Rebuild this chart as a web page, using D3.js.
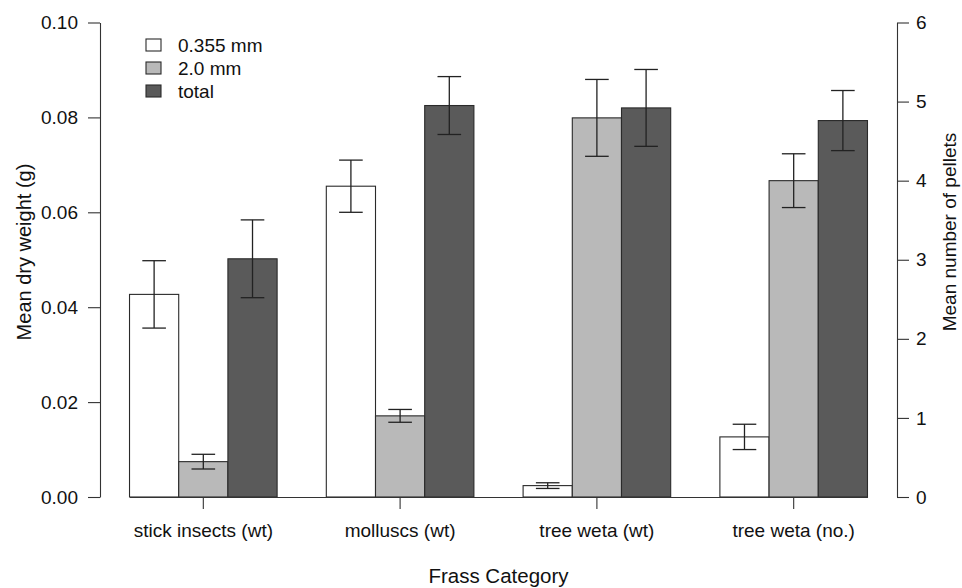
<!DOCTYPE html>
<html lang="en">
<head>
<meta charset="UTF-8">
<title>Frass Category</title>
<script src="https://d3js.org/d3.v7.min.js"></script>
<style>
    body { margin: 0; background: #fff; }
    svg { display: block; font-family: "Liberation Sans", Arial, Helvetica, sans-serif; }
    .axis text { font-size: 19px; fill: #111; font-family: "Liberation Sans", Arial, sans-serif; }
    .axis path, .axis line { stroke: #333; stroke-width: 1.1; }
</style>
</head>
<body>
<svg width="962" height="588"></svg>
<script>
    // data
    const categories = ["stick insects (wt)", "molluscs (wt)", "tree weta (wt)", "tree weta (no.)"];
    const seriesNames = ["0.355 mm", "2.0 mm", "total"];
    const seriesColors = ["#ffffff", "#b9b9b9", "#5a5a5a"];
    // last category is a count (right axis), others are weights (left axis)
    const axisSide = ["left", "left", "left", "right"];
    const mean0355 = [0.0427, 0.0655, 0.0024, 0.76];
    const se0355 = [0.0071, 0.0055, 0.0006, 0.16];
    const mean20 = [0.00745, 0.0171, 0.0799, 4.00];
    const se20 = [0.00155, 0.00135, 0.0081, 0.34];
    const meanTotal = [0.0502, 0.0825, 0.0820, 4.76];
    const seTotal = [0.0082, 0.0061, 0.0081, 0.38];
    const leftTicks = [0, 0.02, 0.04, 0.06, 0.08, 0.10];
    const rightTicks = [0, 1, 2, 3, 4, 5, 6];

    const means = [mean0355, mean20, meanTotal];
    const ses = [se0355, se20, seTotal];

    const svg = d3.select("svg");

    // bar units like R barplot: 1 unit gap, 3 bars per group, 4% padding each side
    const x = d3.scaleLinear().domain([0.4, 16.6]).range([100, 897]);
    const yLeft = d3.scaleLinear().domain([0, 0.1]).range([497, 22.5]);
    const yRight = d3.scaleLinear().domain([0, 6]).range([497, 22.5]);

    const xGroup = d3.scaleBand()
        .domain(categories)
        .range([x(1), x(16)])
        .paddingInner(0.25)
        .paddingOuter(0);

    const xSub = d3.scaleBand()
        .domain(seriesNames)
        .range([0, xGroup.bandwidth()]);

    const rows = [];
    categories.forEach((cat, i) => {
        seriesNames.forEach((s, j) => {
            rows.push({
                cat, series: s,
                mean: means[j][i], se: ses[j][i],
                y: axisSide[i] === "left" ? yLeft : yRight,
                color: seriesColors[j]
            });
        });
    });

    const bars = svg.append("g");
    bars.selectAll("rect")
        .data(rows)
        .enter()
        .append("rect")
        .attr("x", d => xGroup(d.cat) + xSub(d.series))
        .attr("width", xSub.bandwidth())
        .attr("y", d => d.y(d.mean))
        .attr("height", d => d.y(0) - d.y(d.mean))
        .attr("fill", d => d.color)
        .attr("stroke", "#2a2a2a")
        .attr("stroke-width", 1.1);

    // error bars
    const cap = xSub.bandwidth() * 0.24;
    const err = svg.append("g")
        .attr("stroke", "#222")
        .attr("stroke-width", 1.3)
        .attr("fill", "none");
    rows.forEach(d => {
        const cx = xGroup(d.cat) + xSub(d.series) + xSub.bandwidth() / 2;
        const top = d.y(d.mean + d.se), bot = d.y(d.mean - d.se);
        err.append("line").attr("x1", cx).attr("x2", cx).attr("y1", top).attr("y2", bot);
        err.append("line").attr("x1", cx - cap).attr("x2", cx + cap).attr("y1", top).attr("y2", top);
        err.append("line").attr("x1", cx - cap).attr("x2", cx + cap).attr("y1", bot).attr("y2", bot);
    });

    // axes
    svg.append("g")
        .attr("class", "axis")
        .attr("transform", "translate(100,0)")
        .call(d3.axisLeft(yLeft).tickValues(leftTicks).tickFormat(d3.format(".2f"))
            .tickSize(12).tickSizeOuter(0).tickPadding(10));

    svg.append("g")
        .attr("class", "axis")
        .attr("transform", "translate(897,0)")
        .call(d3.axisRight(yRight).tickValues(rightTicks).tickFormat(d3.format("d"))
            .tickSize(12).tickSizeOuter(0).tickPadding(7));

    const xAxis = svg.append("g")
        .attr("class", "axis")
        .attr("transform", "translate(0,497)")
        .call(d3.axisBottom(xGroup).tickSize(12).tickSizeOuter(0).tickPadding(15));
    xAxis.selectAll("text").attr("dy", "0.71em");

    svg.selectAll(".axis .tick text").attr("fill", "#111");

    // titles
    svg.append("text")
        .attr("transform", "translate(31,252) rotate(-90)")
        .attr("text-anchor", "middle")
        .style("font-size", "20px")
        .attr("fill", "#111")
        .text("Mean dry weight (g)");

    svg.append("text")
        .attr("transform", "translate(956,232) rotate(-90)")
        .attr("text-anchor", "middle")
        .style("font-size", "19px")
        .attr("fill", "#111")
        .text("Mean number of pellets");

    svg.append("text")
        .attr("x", (100 + 897) / 2)
        .attr("y", 583)
        .attr("text-anchor", "middle")
        .style("font-size", "20.5px")
        .attr("fill", "#111")
        .text("Frass Category");

    // legend
    const legend = svg.append("g").attr("transform", "translate(146,39)");
    const item = legend.selectAll("g")
        .data(seriesNames)
        .enter()
        .append("g")
        .attr("transform", (d, i) => `translate(0,${i * 23})`);
    item.append("rect")
        .attr("width", 15)
        .attr("height", 12)
        .attr("fill", (d, i) => seriesColors[i])
        .attr("stroke", "#2a2a2a")
        .attr("stroke-width", 1.1);
    item.append("text")
        .attr("x", 32)
        .attr("y", 13)
        .style("font-size", "19px")
        .attr("fill", "#111")
        .text(d => d);
</script>
</body>
</html>
